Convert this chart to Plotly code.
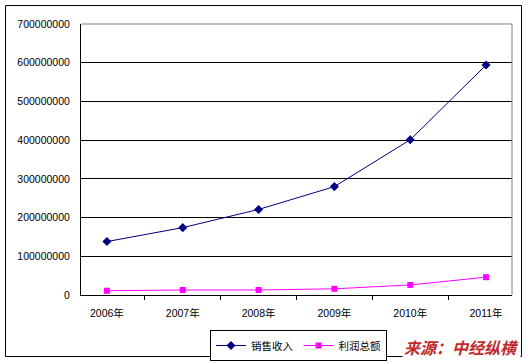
import plotly.graph_objects as go

years = ["2006年", "2007年", "2008年", "2009年", "2010年", "2011年"]
sales = [138000000, 174000000, 221000000, 280000000, 401000000, 594000000]
profit = [11000000, 13000000, 13000000, 16000000, 26000000, 46000000]
y_ticks = [0, 100000000, 200000000, 300000000, 400000000, 500000000, 600000000, 700000000]

W, H = 529, 363
L, R, T, B = 81, 512, 24, 295
pw, ph = R - L, B - T

def px(x):
    return (x - L) / pw

def py(y):
    return (B - y) / ph

font_main = "Liberation Sans, Arial, Noto Sans CJK SC, sans-serif"

fig = go.Figure()
fig.add_trace(go.Scatter(
    x=years, y=sales, name="销售收入", mode="lines+markers",
    line=dict(color="#000080", width=1),
    marker=dict(symbol="diamond", size=7, color="#000080"),
))
fig.add_trace(go.Scatter(
    x=years, y=profit, name="利润总额", mode="lines+markers",
    line=dict(color="#FF00FF", width=1),
    marker=dict(symbol="square", size=6, color="#FF00FF"),
))

fig.update_layout(
    width=W, height=H,
    margin=dict(l=L, r=W - R, t=T, b=H - B, autoexpand=False),
    paper_bgcolor="white", plot_bgcolor="white",
    font=dict(family=font_main, size=10.5, color="black"),
    showlegend=True,
    legend=dict(
        orientation="h", x=px(210), y=py(330), xanchor="left", yanchor="top",
        bordercolor="black", borderwidth=1, bgcolor="white",
        font=dict(size=10.5, family=font_main), itemwidth=30,
        tracegroupgap=0,
    ),
    xaxis=dict(
        type="category", showgrid=False, showline=True, linecolor="black", linewidth=1,
        ticks="outside", tickson="boundaries", ticklen=4, tickcolor="black",
        ticklabelstandoff=8, zeroline=False, automargin=False,
    ),
    yaxis=dict(
        range=[0, 700000000], tickvals=y_ticks, ticktext=[str(v) for v in y_ticks],
        showgrid=True, gridcolor="black", gridwidth=1,
        showline=True, linecolor="black", linewidth=1, ticks="",
        ticklabelstandoff=8, zeroline=False, automargin=False,
    ),
    shapes=[
        dict(type="rect", xref="paper", yref="paper",
             x0=px(5.5), x1=px(521.5), y0=py(356.5), y1=py(5.5),
             line=dict(color="black", width=1), layer="above"),
        dict(type="line", xref="paper", yref="paper", x0=0, x1=1, y0=1, y1=1,
             line=dict(color="#808080", width=1)),
        dict(type="line", xref="paper", yref="paper", x0=1, x1=1, y0=0, y1=1,
             line=dict(color="#808080", width=1)),
    ],
    annotations=[
        dict(text="<b><i>来源：中经纵横</i></b>", xref="paper", yref="paper",
             x=px(521), y=py(347), xanchor="right", yanchor="middle",
             showarrow=False, bgcolor="white",
             font=dict(family="Noto Sans CJK SC", size=16, color="#C0282D")),
    ],
)

fig.write_html("out.html", config={"displayModeBar": False},
               post_script="document.body.style.margin='0';")
